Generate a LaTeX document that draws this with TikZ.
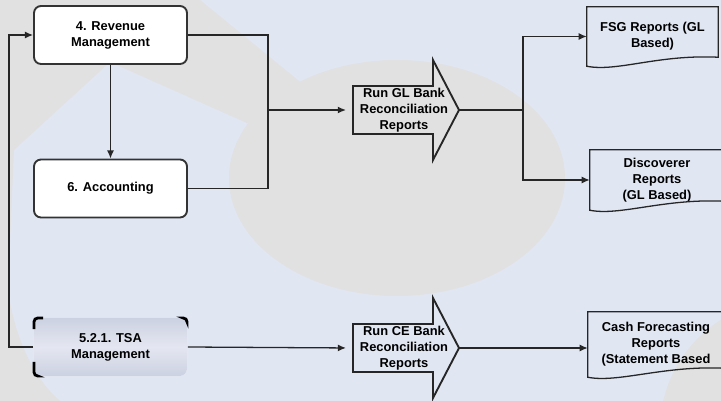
\documentclass[tikz,border=0pt]{standalone}
\usepackage{fontspec}
\setmainfont{Liberation Sans}
\usepackage{tikz}
\usetikzlibrary{arrows.meta,calc}
\definecolor{bgblue}{RGB}{224,230,242}
\definecolor{bggray}{RGB}{225,225,225}
\definecolor{tsadark}{RGB}{204,209,226}
\definecolor{tsalight}{RGB}{228,231,241}
\tikzstyle{proc}=[draw=black!80, line width=1.6pt, fill=white, rounded corners=6pt,
  minimum width=4.59cm, minimum height=1.74cm, align=center]
\tikzstyle{tsabox}=[proc, draw=none, top color=tsadark, bottom color=tsadark,
  middle color=tsalight]
\tikzstyle{tsamark}=[draw=black, line width=2.4pt, rounded corners=3pt]
\tikzstyle{docnode}=[align=center, inner sep=0pt]
\tikzstyle{docline}=[draw=black!85, line width=1.1pt]
\tikzstyle{runtext}=[align=center, inner sep=0pt]
\tikzstyle{bigarrow}=[draw=black!85, line width=1.6pt, line join=miter]
\tikzstyle{wire}=[draw, line width=1.1pt, color=black!85]
\tikzstyle{link}=[wire, -{Latex[length=7pt,width=6pt]}]
\newcommand{\runarrow}[1]{%
  % outline of the big arrow round the text node
  \path[bigarrow] ($(#1)+(-51,-24)$) -- ($(#1)+(29,-24)$) -- ($(#1)+(29,-50)$)
    -- ($(#1)+(55,0)$) -- ($(#1)+(29,50)$) -- ($(#1)+(29,24)$)
    -- ($(#1)+(-51,24)$) -- cycle;
  \coordinate (#1in) at ($(#1)+(-51,0)$);
  \coordinate (#1tip) at ($(#1)+(55,0)$);}
\newcommand{\docframe}[1]{%
  % document outline with wavy bottom
  \path[docline] (#1.south west) -- (#1.north west) -- (#1.north east)
    -- ($(#1.south east)+(0,-9)$) .. controls ($(#1.south east)+(-60,-12)$)
    and ($(#1.south west)+(30,6)$) .. (#1.south west) -- cycle;}

\begin{document}
\begin{tikzpicture}[x=0.03cm,y=-0.03cm,font=\bfseries\fontsize{11}{13.7}\selectfont]

  % Background
\useasboundingbox (0,0) rectangle (721,401);
\fill[bgblue] (0,0) rectangle (721,401);
\fill[bggray] (397,178) ellipse [x radius=168, y radius=118];
\fill[bggray] (0,0) -- (200,0) -- (310,90) -- (330,160) -- (110,62) -- (14,150)
  -- (8,290) .. controls (15,340) and (35,380) .. (60,401) -- (0,401) -- cycle;
\fill[bggray] (790,430) circle (130);

  % Draw diagram elements
\node (rev) [proc] at (110.5,35) {4. Revenue\\Management};
\node (acc) [proc] at (110.5,188.5) {6. Accounting};
\node (tsa) [tsabox] at (110.5,347) {5.2.1. TSA\\Management};
\path[tsamark] ($(tsa.north west)+(1,12)$) |- ($(tsa.north west)+(10,1)$);
\path[tsamark] ($(tsa.south west)+(1,-15)$) |- ($(tsa.south west)+(4,-1)$);
\path[tsamark] ($(tsa.north east)+(-4,1)$) -| ($(tsa.north east)+(-1,4)$);

\node (gl) [runtext] at (404,110) {Run GL Bank\\Reconciliation\\Reports};
\runarrow{gl}
\node (ce) [runtext] at (404,348) {Run CE Bank\\Reconciliation\\Reports};
\runarrow{ce}

\node (fsg) [docnode, minimum width=3.93cm, minimum height=1.77cm] at (652.5,36.5)
  {FSG Reports (GL\\Based)};
\docframe{fsg}
\node (disc) [docnode, minimum width=4.02cm, minimum height=1.8cm] at (657,180)
  {Discoverer\\Reports\\(GL Based)};
\docframe{disc}
\node (cash) [docnode, minimum width=4.08cm, minimum height=1.95cm] at (656,344.5)
  {Cash Forecasting\\Reports\\(Statement Based};
\docframe{cash}

  % Draw arrows between elements
\path [link] (rev.south) -- (acc.north);
\path [wire] (rev.east) -- ++(80,0) |- (acc.east);
\coordinate (mjoin) at (267,110);
\path [link, shorten >=6pt] (mjoin) -- (glin);
\path [link] (gltip) -- ++(64,0) |- (fsg.west);
\path [link] (gltip) -- ++(64,0) |- (disc.west);
\path [link] (tsa.west) -- ++(-24,0) |- (rev.west);
\path [link, shorten >=6pt] (tsa.east) -- (cein);
\path [link] (cetip) -- (cetip -| cash.west);
\end{tikzpicture}
\end{document}
